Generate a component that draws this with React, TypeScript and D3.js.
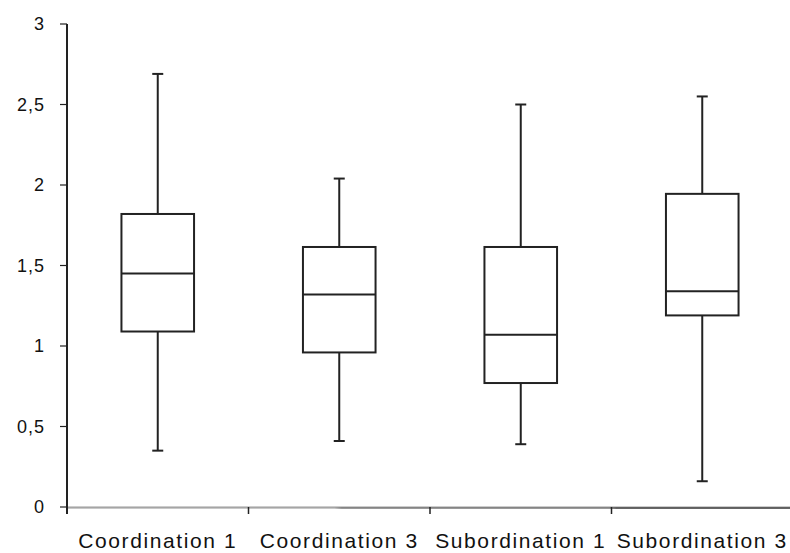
import React, { useEffect, useRef } from "react";
import * as d3 from "d3";

// Box plot values.
const categories = ["Coordination 1", "Coordination 3", "Subordination 1", "Subordination 3"];
const whiskerLow = [0.35, 0.41, 0.39, 0.16];
const quartile1 = [1.09, 0.96, 0.77, 1.19];
const medians = [1.45, 1.32, 1.07, 1.34];
const quartile3 = [1.82, 1.615, 1.615, 1.945];
const whiskerHigh = [2.69, 2.04, 2.5, 2.55];
const yTicks = [0, 0.5, 1, 1.5, 2, 2.5, 3];

const App = () => {
  const svgRef = useRef<SVGSVGElement>(null);

  useEffect(() => {
    const width = 790;
    const height = 553;
    const margin = { top: 24, right: -3, bottom: 46, left: 67 };

    const svg = d3.select(svgRef.current)
      .attr("width", width)
      .attr("height", height);

    svg.selectAll("*").remove();

    const x = d3.scaleBand()
      .domain(categories)
      .range([margin.left, width - margin.right]);

    const y = d3.scaleLinear()
      .domain([0, 3])
      .range([height - margin.bottom, margin.top]);

    const stroke = "#222";
    const font = "'Liberation Sans', Arial, sans-serif";

    // gradient for the grey x axis line
    const grad = svg.append("defs").append("linearGradient")
      .attr("id", "axisGrad")
      .attr("x1", "0%").attr("x2", "100%");
    grad.append("stop").attr("offset", "0%").attr("stop-color", "#c8c8c8");
    grad.append("stop").attr("offset", "37%").attr("stop-color", "#c8c8c8");
    grad.append("stop").attr("offset", "38%").attr("stop-color", "#999");
    grad.append("stop").attr("offset", "75%").attr("stop-color", "#999");
    grad.append("stop").attr("offset", "76%").attr("stop-color", "#666");
    grad.append("stop").attr("offset", "100%").attr("stop-color", "#666");

    // X axis line
    svg.append("rect")
      .attr("x", margin.left)
      .attr("y", y(0))
      .attr("width", width - margin.left)
      .attr("height", 2)
      .attr("fill", "url(#axisGrad)");
    svg.append("line")
      .attr("x1", margin.left).attr("x2", width)
      .attr("y1", y(0)).attr("y2", y(0))
      .attr("stroke", "#555").attr("stroke-width", 0.6);

    // X category boundary ticks
    svg.append("g")
      .selectAll("line")
      .data(categories)
      .join("line")
      .attr("x1", d => x(d)!)
      .attr("x2", d => x(d)!)
      .attr("y1", y(0))
      .attr("y2", y(0) + 7)
      .attr("stroke", stroke)
      .attr("stroke-width", 1.5);

    // X labels
    svg.append("g")
      .selectAll("text")
      .data(categories)
      .join("text")
      .attr("x", d => x(d)! + x.bandwidth() / 2)
      .attr("y", 548)
      .attr("text-anchor", "middle")
      .attr("font-family", font)
      .attr("font-size", 21)
      .attr("letter-spacing", 1.6)
      .attr("fill", "#111")
      .text(d => d);

    // Y axis
    svg.append("line")
      .attr("x1", margin.left).attr("x2", margin.left)
      .attr("y1", y(3)).attr("y2", y(0) + 7)
      .attr("stroke", stroke)
      .attr("stroke-width", 2);

    const yAxis = svg.append("g");
    yAxis.selectAll("line")
      .data(yTicks)
      .join("line")
      .attr("x1", margin.left - 7)
      .attr("x2", margin.left)
      .attr("y1", d => y(d))
      .attr("y2", d => y(d))
      .attr("stroke", stroke)
      .attr("stroke-width", 1.2);
    yAxis.selectAll("text")
      .data(yTicks)
      .join("text")
      .attr("x", 45)
      .attr("y", d => y(d) + 6)
      .attr("text-anchor", "end")
      .attr("font-family", font)
      .attr("font-size", 18)
      .attr("letter-spacing", 1)
      .attr("fill", "#111")
      .text(d => String(d).replace(".", ","));

    // Boxes
    const boxW = x.bandwidth() * 0.4;
    const capW = 11;
    const boxes = svg.append("g")
      .selectAll("g")
      .data(categories)
      .join("g");

    const cx = (d: string) => x(d)! + x.bandwidth() / 2;

    boxes.append("line")
      .attr("x1", cx).attr("x2", cx)
      .attr("y1", (d, i) => y(whiskerHigh[i]))
      .attr("y2", (d, i) => y(quartile3[i]))
      .attr("stroke", stroke).attr("stroke-width", 2);
    boxes.append("line")
      .attr("x1", cx).attr("x2", cx)
      .attr("y1", (d, i) => y(quartile1[i]))
      .attr("y2", (d, i) => y(whiskerLow[i]))
      .attr("stroke", stroke).attr("stroke-width", 2);
    boxes.append("line")
      .attr("x1", d => cx(d) - capW / 2).attr("x2", d => cx(d) + capW / 2)
      .attr("y1", (d, i) => y(whiskerHigh[i]))
      .attr("y2", (d, i) => y(whiskerHigh[i]))
      .attr("stroke", stroke).attr("stroke-width", 2);
    boxes.append("line")
      .attr("x1", d => cx(d) - capW / 2).attr("x2", d => cx(d) + capW / 2)
      .attr("y1", (d, i) => y(whiskerLow[i]))
      .attr("y2", (d, i) => y(whiskerLow[i]))
      .attr("stroke", stroke).attr("stroke-width", 2);
    boxes.append("rect")
      .attr("x", d => cx(d) - boxW / 2)
      .attr("width", boxW)
      .attr("y", (d, i) => y(quartile3[i]))
      .attr("height", (d, i) => y(quartile1[i]) - y(quartile3[i]))
      .attr("fill", "white")
      .attr("stroke", stroke).attr("stroke-width", 2);
    boxes.append("line")
      .attr("x1", d => cx(d) - boxW / 2).attr("x2", d => cx(d) + boxW / 2)
      .attr("y1", (d, i) => y(medians[i]))
      .attr("y2", (d, i) => y(medians[i]))
      .attr("stroke", stroke).attr("stroke-width", 2);
  }, []);

  return (
    <div style={{ position: "absolute", left: 0, top: 0 }}>
      <svg ref={svgRef}></svg>
    </div>
  );
};

export default App;
